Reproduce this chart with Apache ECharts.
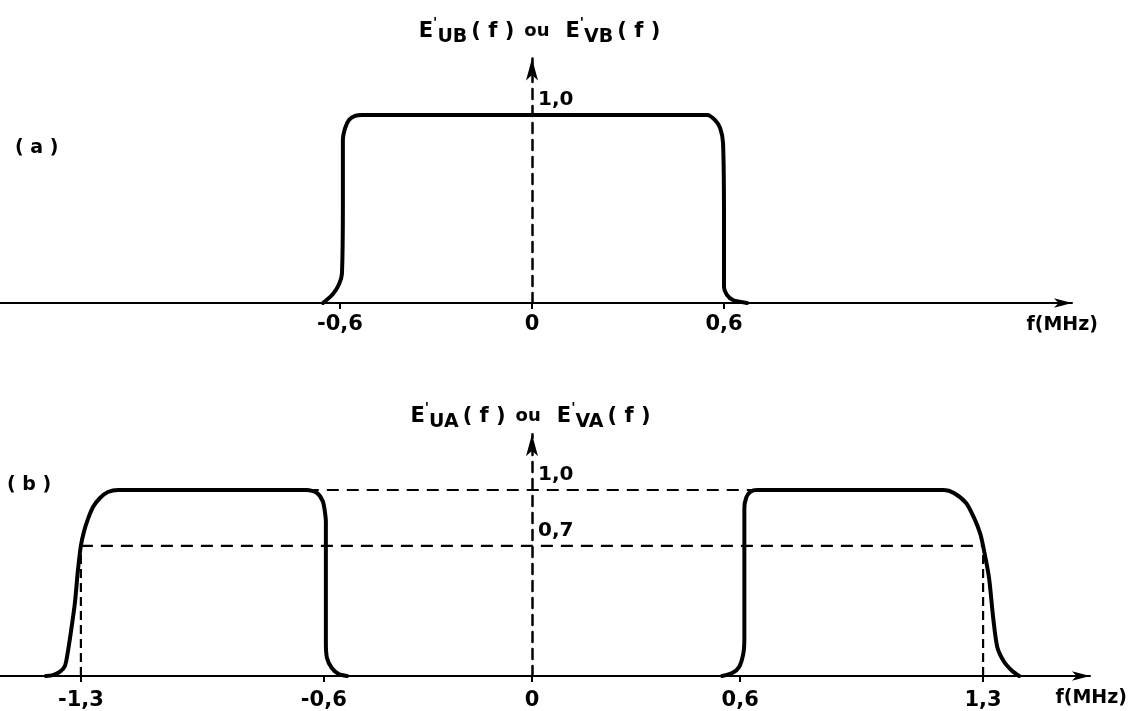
<!DOCTYPE html>
<html>
<head>
<meta charset="utf-8">
<script src="https://cdn.jsdelivr.net/npm/echarts@6/dist/echarts.min.js"></script>
<style>
html,body{margin:0;padding:0;background:#fff;}
#chart{width:1129px;height:711px;}
</style>
</head>
<body>
<div id="chart"></div>
<script>
// ---------- data ----------
const panelLabels = ['( a )', '( b )'];
const axisName = 'f(MHz)';
const ticksA = [-0.6, 0, 0.6];
const ticksB = [-1.3, -0.6, 0, 0.6, 1.3];
const levelsA = [1.0];
const levelsB = [0.7, 1.0];

// panel (a): E'UB(f) ou E'VB(f)
const aX = [-0.653, -0.622, -0.603, -0.594, -0.591, -0.591, -0.584, -0.572, -0.553, -0.531,
            0.525, 0.547, 0.572, 0.588, 0.597, 0.600, 0.600, 0.609, 0.628, 0.672];
const aY = [0, 0.048, 0.10, 0.155, 0.545, 0.866, 0.93, 0.973, 0.995, 1.0,
            1.0, 1.0, 0.973, 0.93, 0.851, 0.44, 0.085, 0.043, 0.016, 0];

// panel (b): E'UA(f) ou E'VA(f) — left band
const bLeftX = [-1.401, -1.381, -1.361, -1.346, -1.338, -1.329, -1.317, -1.309, -1.300, -1.291,
                -1.280, -1.265, -1.245, -1.222, -1.193,
                -0.649, -0.620, -0.603, -0.597, -0.594, -0.594, -0.591, -0.577, -0.557, -0.533];
const bLeftY = [0, 0.005, 0.022, 0.054, 0.125, 0.234, 0.397, 0.56, 0.70, 0.777,
                0.842, 0.908, 0.957, 0.989, 1.0,
                1.0, 0.984, 0.94, 0.886, 0.83, 0.18, 0.098, 0.043, 0.011, 0];
// right band
const bRightX = [0.548, 0.577, 0.597, 0.609, 0.612, 0.612, 0.617, 0.629, 0.649,
                 1.187, 1.216, 1.251, 1.274, 1.291, 1.300, 1.317, 1.329, 1.341, 1.361, 1.384, 1.404];
const bRightY = [0, 0.016, 0.049, 0.12, 0.2, 0.9, 0.957, 0.99, 1.0,
                 1.0, 0.984, 0.93, 0.85, 0.77, 0.70, 0.53, 0.315, 0.155, 0.075, 0.027, 0];

// dashed guide lines in (b)
const guide10X = [-0.649, 0.649], guide10Y = [1.0, 1.0];
const guide07X = [-1.3, 1.3],     guide07Y = [0.7, 0.7];
const guideL_X = [-1.3, -1.3],    guideL_Y = [0, 0.7];
const guideR_X = [1.3, 1.3],      guideR_Y = [0, 0.7];

// ---------- helpers ----------
const zip = (xs, ys) => xs.map((x, i) => [x, ys[i]]);
const fmt = v => (v === 0 ? '0' : v.toFixed(1).replace('.', ','));
const FONT = 'DejaVu Sans';

const titleRich = {
  m:   {fontFamily: FONT, fontWeight: 'bold', fontSize: 21, lineHeight: 30, verticalAlign: 'middle', fill: '#000'},
  sup: {fontFamily: FONT, fontWeight: 'bold', fontSize: 14, lineHeight: 16, verticalAlign: 'top', fill: '#000'},
  sub: {fontFamily: FONT, fontWeight: 'bold', fontSize: 19, lineHeight: 12, verticalAlign: 'bottom', fill: '#000'},
  p:   {fontFamily: FONT, fontWeight: 'bold', fontSize: 21, lineHeight: 30, verticalAlign: 'middle', fill: '#000', padding: [0, 5, 0, 4]},
  ou:  {fontFamily: FONT, fontWeight: 'bold', fontSize: 18, lineHeight: 30, verticalAlign: 'middle', fill: '#000', padding: [0, 16, 0, 5]}
};
const titleA = '{m|E}{sup|\'}{sub|UB}{p|( f )}{ou|ou}{m|E}{sup|\'}{sub|VB}{p|( f )}';
const titleB = '{m|E}{sup|\'}{sub|UA}{p|( f )}{ou|ou}{m|E}{sup|\'}{sub|VA}{p|( f )}';

function xAxisCfg(gridIndex, min, max, ticks, nameGap, labelMargin) {
  return {
    type: 'value', gridIndex, min, max,
    name: axisName, nameLocation: 'end', nameGap,
    nameTextStyle: {fontFamily: FONT, fontWeight: 'bold', fontSize: 19, color: '#000',
                    align: 'right', verticalAlign: 'top', padding: [13, 0, 0, 0]},
    axisLine: {show: true, onZero: true, symbol: ['none', 'arrow'], symbolSize: [7, 18],
               lineStyle: {color: '#000', width: 2}},
    axisTick: {show: true, customValues: ticks, length: 6, lineStyle: {color: '#000', width: 2}},
    axisLabel: {show: true, customValues: ticks, formatter: fmt, margin: labelMargin,
                fontFamily: FONT, fontWeight: 'bold', fontSize: 21, color: '#000'},
    splitLine: {show: false}
  };
}
function yAxisCfg(gridIndex, levels) {
  return {
    type: 'value', gridIndex, min: 0, max: 1.3,
    position: 'left', offset: -532,
    axisLine: {show: true, onZero: false, symbol: ['none', 'arrow'], symbolSize: [9, 22],
               lineStyle: {color: '#000', width: 2.5, type: [10, 7]}},
    axisTick: {show: false},
    axisLabel: {show: true, customValues: levels, formatter: fmt, inside: true, margin: 6,
                verticalAlign: 'bottom', padding: [0, 0, 5, 0],
                fontFamily: FONT, fontWeight: 'bold', fontSize: 20, color: '#000'},
    splitLine: {show: false}
  };
}
const curveStyle = {color: '#000', width: 4, join: 'round', cap: 'round'};
const dashStyle = {color: '#000', width: 2.2, type: [12, 8]};
function lineSeries(name, xi, data, style, smooth) {
  return {type: 'line', name, xAxisIndex: xi, yAxisIndex: xi, data, symbol: 'none',
          smooth: smooth || false, lineStyle: style, silent: true, z: 3};
}

const chart = echarts.init(document.getElementById('chart'), null, {renderer: 'canvas'});
chart.setOption({
  animation: false,
  backgroundColor: '#fff',
  grid: [
    {left: 0, top: 58.6, width: 1072, height: 244.4, containLabel: false, outerBoundsMode: 'none'},
    {left: 0, top: 434.2, width: 1090, height: 241.8, containLabel: false, outerBoundsMode: 'none'}
  ],
  xAxis: [
    xAxisCfg(0, -1.6625, 1.6875, ticksA, 26, 11),
    xAxisCfg(1, -1.5331, 1.6081, ticksB, 37, 14)
  ],
  yAxis: [yAxisCfg(0, levelsA), yAxisCfg(1, levelsB)],
  series: [
    lineSeries('a', 0, zip(aX, aY), curveStyle, 0.25),
    lineSeries('b-left', 1, zip(bLeftX, bLeftY), curveStyle, 0.25),
    lineSeries('b-right', 1, zip(bRightX, bRightY), curveStyle, 0.25),
    lineSeries('g10', 1, zip(guide10X, guide10Y), dashStyle),
    lineSeries('g07', 1, zip(guide07X, guide07Y), dashStyle),
    lineSeries('gL', 1, zip(guideL_X, guideL_Y), {color: '#000', width: 2.2, type: [9, 5]}),
    lineSeries('gR', 1, zip(guideR_X, guideR_Y), {color: '#000', width: 2.2, type: [9, 5]})
  ],
  graphic: [
    {type: 'text', x: 542, y: 31.5, style: {text: titleA, rich: titleRich, align: 'center', verticalAlign: 'middle'}},
    {type: 'text', x: 533, y: 416.5, style: {text: titleB, rich: titleRich, align: 'center', verticalAlign: 'middle'}},
    {type: 'text', x: 15, y: 148, style: {text: panelLabels[0], fontFamily: FONT, fontWeight: 'bold', fontSize: 19, fill: '#000', align: 'left', verticalAlign: 'middle'}},
    {type: 'text', x: 7, y: 485, style: {text: panelLabels[1], fontFamily: FONT, fontWeight: 'bold', fontSize: 19, fill: '#000', align: 'left', verticalAlign: 'middle'}}
  ]
});
</script>
</body>
</html>
